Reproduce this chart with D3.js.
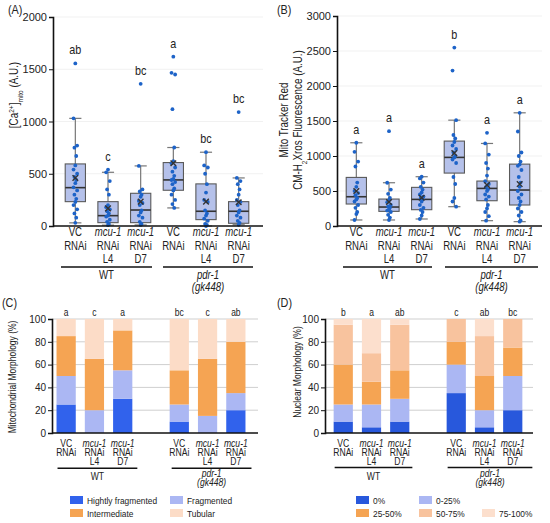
<!DOCTYPE html>
<html>
<head>
<meta charset="utf-8">
<script src="https://cdn.jsdelivr.net/npm/d3@7"></script>
<style>
  body { margin: 0; background: #fff; }
  text { font-family: "Liberation Sans", Arial, sans-serif; fill: #222; }
</style>
</head>
<body>
<svg id="fig" width="550" height="523"></svg>
<script>
// ---- categories / labels
const categories = ["WT VC", "WT mcu-1 L4", "WT mcu-1 D7", "pdr-1 VC", "pdr-1 mcu-1 L4", "pdr-1 mcu-1 D7"];
const catLine1 = ["VC", "mcu-1", "mcu-1", "VC", "mcu-1", "mcu-1"];
const catLine2 = ["RNAi", "RNAi", "RNAi", "RNAi", "RNAi", "RNAi"];
const catLine3 = ["", "L4", "D7", "", "L4", "D7"];
const strains = ["WT", "pdr-1"];

// ---- (A) mito Ca2+ box plots
const caTicks = [0, 500, 1000, 1500, 2000];
const caQ1 = [233, 32, 32, 342, 61, 26];
const caMed = [367, 99, 153, 441, 141, 141];
const caQ3 = [594, 233, 313, 607, 403, 233];
const caLo = [30, 8, 10, 173, 0, 12];
const caHi = [1030, 514, 575, 751, 706, 460];
const caMean = [460, 169, 233, 600, 233, 227];
const caLetters = ["ab", "c", "bc", "a", "bc", "bc"];
const caPoints = [
  [1556, 1030, 770, 750, 670, 580, 540, 500, 470, 440, 410, 370, 340, 300, 260, 230, 200, 160, 120, 80, 30],
  [540, 514, 430, 350, 300, 200, 180, 160, 140, 120, 100, 90, 60, 40, 20, 8],
  [1361, 575, 350, 330, 300, 280, 240, 220, 200, 150, 130, 100, 80, 40, 20, 10],
  [1620, 1466, 1450, 1118, 751, 620, 600, 560, 520, 480, 450, 440, 420, 400, 360, 340, 300, 250, 210, 173],
  [706, 580, 560, 500, 400, 320, 250, 230, 150, 120, 100, 70, 50, 20, 10, 0],
  [1090, 460, 430, 400, 350, 300, 250, 230, 200, 150, 130, 100, 80, 50, 30, 12]
];

// ---- (B) ROS box plots
const rosTicks = [0, 500, 1000, 1500, 2000, 2500, 3000];
const rosQ1 = [314, 209, 233, 756, 361, 300];
const rosMed = [418, 271, 380, 980, 537, 514];
const rosQ3 = [694, 385, 552, 1213, 642, 884];
const rosLo = [86, 86, 100, 276, 76, 62];
const rosHi = [1189, 618, 704, 1512, 1179, 1617];
const rosMean = [499, 342, 404, 1041, 585, 599];
const rosLetters = ["a", "a", "a", "b", "a", "a"];
const rosPoints = [
  [1189, 1060, 920, 850, 620, 560, 500, 470, 440, 400, 380, 350, 300, 260, 200, 170, 86],
  [1355, 618, 520, 460, 400, 370, 340, 300, 280, 260, 240, 220, 200, 160, 120, 86],
  [704, 680, 620, 560, 520, 480, 450, 420, 400, 380, 350, 300, 260, 230, 200, 150, 100],
  [2549, 2221, 1512, 1300, 1250, 1200, 1150, 1100, 1050, 1000, 980, 950, 900, 700, 600, 400, 350, 276],
  [1331, 1179, 1020, 900, 820, 720, 640, 600, 560, 520, 500, 450, 420, 380, 300, 250, 200, 140, 76],
  [1617, 1350, 1050, 1000, 920, 880, 860, 800, 700, 620, 560, 500, 450, 400, 350, 300, 250, 200, 150, 80, 62]
];

// ---- (C) mitochondrial morphology (%)
const pctTicks = [0, 20, 40, 60, 80, 100];
const mitoKeys = ["Hightly fragmented", "Fragmented", "Intermediate", "Tubular"];
const mitoHighly = [25, 0, 30, 10, 0, 20];
const mitoFrag = [25, 20, 25, 15, 15, 15];
const mitoInter = [35, 45, 35, 30, 50, 45];
const mitoTubular = [15, 35, 10, 45, 35, 20];
const mitoLetters = ["a", "c", "a", "bc", "c", "ab"];

// ---- (D) nuclear morphology (%)
const nucKeys = ["0%", "0-25%", "25-50%", "50-75%", "75-100%"];
const nuc0 = [10, 5, 10, 35, 5, 20];
const nuc0to25 = [15, 20, 20, 25, 15, 30];
const nuc25to50 = [35, 20, 25, 20, 30, 25];
const nuc50to75 = [35, 25, 40, 20, 35, 25];
const nuc75to100 = [5, 30, 5, 0, 15, 0];
const nucLetters = ["b", "a", "ab", "c", "ab", "bc"];

const svg = d3.select("#fig");

// text squeezed horizontally like the source figure
function txt(g, x, y, s, o) {
  o = o || {};
  const rot = o.rotate ? " rotate(-90)" : "";
  return g.append("text")
    .attr("transform", `translate(${x},${y})${rot} scale(${o.sx || 0.82},1)`)
    .attr("text-anchor", o.anchor || "middle")
    .style("font-size", (o.size || 12) + "px")
    .style("font-style", o.italic ? "italic" : null)
    .text(s);
}

function leftAxis(g, y, x0, x1, ticks, size, grid) {
  if (grid) {
    g.selectAll(null).data(ticks.filter(t => t > 0)).join("line")
      .attr("x1", x0).attr("x2", x1)
      .attr("y1", d => y(d)).attr("y2", d => y(d))
      .attr("stroke", grid);
  }
  const ax = g.append("g").attr("transform", `translate(${x0},0)`)
    .call(d3.axisLeft(y).tickValues(ticks).tickFormat(d3.format("d")).tickSize(4).tickPadding(2));
  ax.select(".domain").attr("stroke", "#111").attr("stroke-width", 1.6);
  ax.selectAll(".tick line").attr("stroke", "#111");
  ax.selectAll(".tick text").style("font-size", size + "px").attr("fill", "#222");
}

function baseLine(g, y, x0, x1) {
  g.append("line")
    .attr("x1", x0).attr("x2", x1)
    .attr("y1", y.range()[0]).attr("y2", y.range()[0])
    .attr("stroke", "#111").attr("stroke-width", 1.6);
}

// spans: per strain [extend-left, shrink-right] of the underline
function catLabels(g, x, rowY, fs, sx, lineY, spans, strainY) {
  categories.forEach((c, i) => {
    const cx = x(c) + x.bandwidth() / 2;
    txt(g, cx, rowY[0], catLine1[i], { size: fs, sx: sx, italic: catLine1[i] !== "VC" });
    txt(g, cx, rowY[1], catLine2[i], { size: fs, sx: sx });
    if (catLine3[i]) txt(g, cx, rowY[2], catLine3[i], { size: fs, sx: sx });
  });
  [[0, 2], [3, 5]].forEach((r, k) => {
    const left = x(categories[r[0]]), right = x(categories[r[1]]) + x.bandwidth();
    const a = left + spans[k][0], b = right - spans[k][1];
    g.append("line").attr("x1", a).attr("x2", b).attr("y1", lineY).attr("y2", lineY)
      .attr("stroke", "#111").attr("stroke-width", 1.4);
    const mid = (a + b) / 2;
    if (k === 0) txt(g, mid, strainY[0], strains[0], { size: fs, sx: sx });
    else {
      txt(g, mid, strainY[1], strains[1], { size: fs, sx: sx, italic: true });
      txt(g, mid, strainY[2], "(gk448)", { size: fs, sx: sx, italic: true });
    }
  });
}

function boxPanel(g, x, y, q1, med, q3, lo, hi, mean, letters, points) {
  const bw = x.bandwidth() * 0.62;
  const jit = [0, -1.8, 1.8, -0.9, 0.9];
  categories.forEach((c, i) => {
    const cx = x(c) + x.bandwidth() / 2;
    const b = g.append("g");
    b.append("line").attr("x1", cx).attr("x2", cx)
      .attr("y1", y(hi[i])).attr("y2", y(lo[i])).attr("stroke", "#777").attr("stroke-width", 1.2);
    [hi[i], lo[i]].forEach(v => b.append("line")
      .attr("x1", cx - bw * 0.3).attr("x2", cx + bw * 0.3)
      .attr("y1", y(v)).attr("y2", y(v)).attr("stroke", "#777").attr("stroke-width", 1.2));
    b.append("rect").attr("x", cx - bw / 2).attr("width", bw)
      .attr("y", y(q3[i])).attr("height", y(q1[i]) - y(q3[i]))
      .attr("fill", "#b5c1ea").attr("stroke", "#5a5a5a").attr("stroke-width", 1.1);
    b.append("line").attr("x1", cx - bw / 2).attr("x2", cx + bw / 2)
      .attr("y1", y(med[i])).attr("y2", y(med[i])).attr("stroke", "#333").attr("stroke-width", 1.6);
    b.selectAll("circle").data(points[i]).join("circle")
      .attr("cx", (d, j) => cx + jit[j % jit.length])
      .attr("cy", d => y(d)).attr("r", 1.9).attr("fill", "#1d63c8");
    const my = y(mean[i]), s = 2.8;
    b.append("path").attr("d", `M${cx - s},${my - s}L${cx + s},${my + s}M${cx - s},${my + s}L${cx + s},${my - s}`)
      .attr("stroke", "#333").attr("stroke-width", 1.4);
    txt(b, cx, y(d3.max(points[i])) - 9, letters[i], { size: 12, sx: 0.9 });
  });
}

function stackPanel(g, x, y, seriesArr, colors, letters) {
  const rows = categories.map((c, i) => {
    const r = { cat: c };
    seriesArr.forEach((s, k) => r["k" + k] = s[i]);
    return r;
  });
  const stack = d3.stack().keys(seriesArr.map((s, k) => "k" + k))(rows);
  g.selectAll(null).data(stack).join("g")
    .attr("fill", (d, k) => colors[k])
    .selectAll("rect").data(d => d).join("rect")
    .attr("x", d => x(d.data.cat)).attr("width", x.bandwidth())
    .attr("y", d => y(d[1])).attr("height", d => y(d[0]) - y(d[1]));
  categories.forEach((c, i) => {
    txt(g, x(c) + x.bandwidth() / 2, y(100) - 3, letters[i], { size: 10, sx: 0.85 });
  });
}

// perRow: how many entries sit on each legend row
function legend(g, keys, colors, perRow, x0, colW, y0, rowH) {
  let i = 0;
  perRow.forEach((n, r) => {
    for (let c = 0; c < n; c++, i++) {
      const cx = x0 + c * colW, cy = y0 + r * rowH;
      g.append("rect").attr("x", cx).attr("y", cy).attr("width", 13).attr("height", 8).attr("fill", colors[i]);
      txt(g, cx + 17, cy + 7.5, keys[i], { size: 9.5, sx: 0.88, anchor: "start" });
    }
  });
}

// band-like accessor with an empty slot between the two strains
function slotScale(range, outer) {
  const slots = d3.scaleBand().domain(d3.range(7)).range(range).paddingInner(0.32).paddingOuter(outer);
  const idx = [0, 1, 2, 4, 5, 6];
  const x = c => slots(idx[categories.indexOf(c)]);
  x.bandwidth = () => slots.bandwidth();
  return x;
}

// ================= (A)
{
  const g = svg.append("g");
  const y = d3.scaleLinear().domain([0, 2000]).range([226, 17]);
  const x = d3.scaleBand().domain(categories).range([59, 255]);
  leftAxis(g, y, 53, 263, caTicks, 11, "#f1f1f1");
  boxPanel(g, x, y, caQ1, caMed, caQ3, caLo, caHi, caMean, caLetters, caPoints);
  baseLine(g, y, 53, 263);
  catLabels(g, x, [236, 250, 263], 12, 0.8, 267, [[2, 5], [6, 2]], [279, 279, 291]);
  txt(g, 8, 14, "(A)", { size: 12, anchor: "start", sx: 0.9 });
  const t = g.append("text").attr("transform", "translate(18,95) rotate(-90) scale(0.82,1)")
    .attr("text-anchor", "middle").style("font-size", "12px");
  t.append("tspan").text("[Ca");
  t.append("tspan").text("2+").attr("baseline-shift", "super").style("font-size", "8px");
  t.append("tspan").text("]");
  t.append("tspan").text("mito").attr("baseline-shift", "sub").style("font-size", "8px");
  t.append("tspan").text(" (A.U.)");
}

// ================= (B)
{
  const g = svg.append("g");
  const y = d3.scaleLinear().domain([0, 3000]).range([226, 16]);
  const x = d3.scaleBand().domain(categories).range([340, 536]);
  leftAxis(g, y, 337, 542, rosTicks, 11, "#f1f1f1");
  boxPanel(g, x, y, rosQ1, rosMed, rosQ3, rosLo, rosHi, rosMean, rosLetters, rosPoints);
  baseLine(g, y, 337, 542);
  catLabels(g, x, [236, 250, 263], 12, 0.8, 267, [[3, 6], [7, -2]], [279, 279, 291]);
  txt(g, 277, 14, "(B)", { size: 12, anchor: "start", sx: 0.9 });
  txt(g, 288, 120, "Mito Tracker Red", { size: 12, sx: 0.82, rotate: true });
  const t = g.append("text").attr("transform", "translate(302,120) rotate(-90) scale(0.82,1)")
    .attr("text-anchor", "middle").style("font-size", "12px");
  t.append("tspan").text("CM-H");
  t.append("tspan").text("2").attr("baseline-shift", "sub").style("font-size", "8px");
  t.append("tspan").text("Xros Fluorescence (A.U.)");
}

// ================= (C)
const mitoColors = ["#3162ec", "#abb7f3", "#f5a453", "#fcdcc7"];
{
  const g = svg.append("g");
  const y = d3.scaleLinear().domain([0, 100]).range([433, 319]);
  const x = slotScale([52, 250], 0.16);
  leftAxis(g, y, 52, 258, pctTicks, 10, "#cfcfcf");
  stackPanel(g, x, y, [mitoHighly, mitoFrag, mitoInter, mitoTubular], mitoColors, mitoLetters);
  baseLine(g, y, 52, 258);
  catLabels(g, x, [447.3, 455.5, 464.7], 10, 0.86, 468.3, [[1, -5], [2, -6]], [479.7, 476.5, 486]);
  txt(g, 2, 307, "(C)", { size: 12, anchor: "start", sx: 0.9 });
  txt(g, 16, 377, "Mitochondrial Morphology (%)", { size: 10, sx: 0.85, rotate: true });
  legend(g, mitoKeys, mitoColors, [2, 2], 70, 100, 496, 13);
}

// ================= (D)
const nucColors = ["#2858dc", "#abb7f3", "#f5a453", "#f8c39e", "#fcdfcd"];
{
  const g = svg.append("g");
  const y = d3.scaleLinear().domain([0, 100]).range([433, 319]);
  const x = slotScale([328, 528], 0.2);
  leftAxis(g, y, 325, 533, pctTicks, 10, "#cfcfcf");
  stackPanel(g, x, y, [nuc0, nuc0to25, nuc25to50, nuc50to75, nuc75to100], nucColors, nucLetters);
  baseLine(g, y, 325, 533);
  catLabels(g, x, [447.3, 455.5, 464.7], 10, 0.86, 467.5, [[1, -3], [1, -10]], [479.7, 476.5, 486]);
  txt(g, 277, 307, "(D)", { size: 12, anchor: "start", sx: 0.9 });
  txt(g, 301, 372, "Nuclear Morphology (%)", { size: 10, sx: 0.85, rotate: true });
  legend(g, nucKeys, nucColors, [2, 3], 356, 63, 496, 13);
}
</script>
</body>
</html>
